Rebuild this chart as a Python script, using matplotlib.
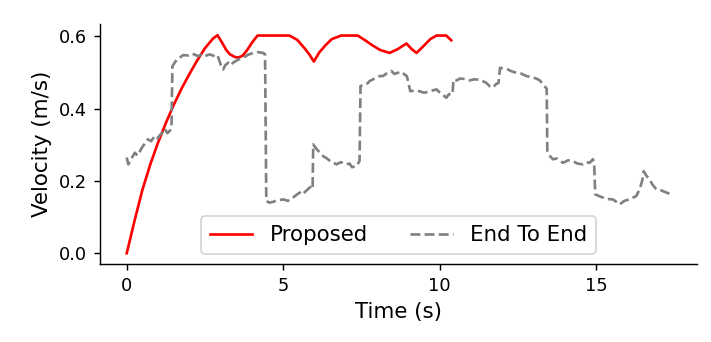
import matplotlib
matplotlib.use("Agg")
import matplotlib.pyplot as plt

# proposed controller velocity (red)
proposed_t = [0.0, 0.25, 0.5, 0.75, 1.0, 1.25, 1.5, 1.75, 2.0, 2.25, 2.5, 2.75, 2.9,
              3.05, 3.18, 3.3, 3.45, 3.56, 3.7, 3.85, 4.0, 4.18, 5.2, 5.45, 5.7, 5.85,
              5.98, 6.15, 6.35, 6.55, 6.85, 7.38, 7.6, 7.85, 8.1, 8.4, 8.65, 8.94, 9.1,
              9.26, 9.45, 9.7, 9.9, 10.21, 10.37]
proposed_v = [0.0, 0.09, 0.175, 0.245, 0.306, 0.36, 0.41, 0.455, 0.495, 0.533, 0.567, 0.593, 0.603,
              0.582, 0.562, 0.55, 0.543, 0.541, 0.546, 0.562, 0.582, 0.602, 0.602, 0.59, 0.565, 0.548,
              0.53, 0.555, 0.575, 0.592, 0.602, 0.602, 0.59, 0.575, 0.562, 0.554, 0.564, 0.58, 0.565,
              0.554, 0.57, 0.592, 0.602, 0.602, 0.589]

# end to end baseline velocity (gray dashed)
e2e_t = [0.0, 0.05, 0.15, 0.26, 0.35, 0.47, 0.55, 0.67, 0.78, 0.9, 1.0, 1.05, 1.15, 1.21, 1.3,
         1.37, 1.43, 1.46, 1.53, 1.6, 1.69, 1.8, 1.96, 2.1, 2.28, 2.4, 2.49, 2.65, 2.81, 2.9,
         2.97, 3.02, 3.08, 3.15, 3.24, 3.32, 3.4, 3.55, 3.72, 3.85, 4.04, 4.2, 4.36, 4.42,
         4.46, 4.55, 4.67, 4.8, 5.0, 5.15, 5.31, 5.4, 5.53, 5.6, 5.79, 5.9, 5.94, 5.96, 6.05,
         6.15, 6.27, 6.4, 6.5, 6.7, 6.85, 7.02, 7.12, 7.2, 7.34, 7.44, 7.47, 7.6, 7.7, 7.76,
         7.85, 7.98, 8.08, 8.19, 8.3, 8.46, 8.55, 8.67, 8.78, 8.88, 8.95, 8.99, 9.06, 9.2,
         9.36, 9.5, 9.68, 9.8, 9.9, 10.0, 10.1, 10.21, 10.3, 10.41, 10.44, 10.55, 10.64, 10.8,
         10.96, 11.1, 11.28, 11.38, 11.49, 11.6, 11.7, 11.8, 11.88, 11.93, 12.05, 12.18, 12.3,
         12.45, 12.6, 12.77, 12.9, 13.09, 13.2, 13.35, 13.42, 13.44, 13.53, 13.62, 13.75,
         13.94, 14.1, 14.26, 14.4, 14.58, 14.7, 14.79, 14.9, 14.94, 14.97, 15.1, 15.22, 15.35,
         15.54, 15.65, 15.75, 15.9, 16.07, 16.2, 16.28, 16.39, 16.47, 16.52, 16.6, 16.71, 16.8,
         16.92, 17.05, 17.13, 17.3, 17.37]
e2e_v = [0.265, 0.246, 0.262, 0.278, 0.27, 0.29, 0.3, 0.315, 0.31, 0.325, 0.318, 0.326, 0.335, 0.345, 0.332,
         0.338, 0.345, 0.517, 0.527, 0.535, 0.54, 0.548, 0.547, 0.552, 0.545, 0.55, 0.545, 0.55, 0.545, 0.548,
         0.53, 0.517, 0.508, 0.52, 0.527, 0.52, 0.527, 0.535, 0.54, 0.548, 0.554, 0.556, 0.554, 0.55,
         0.145, 0.14, 0.142, 0.146, 0.149, 0.145, 0.154, 0.16, 0.168, 0.162, 0.177, 0.186, 0.18, 0.301, 0.29,
         0.28, 0.269, 0.262, 0.255, 0.246, 0.252, 0.246, 0.248, 0.238, 0.241, 0.255, 0.462, 0.467, 0.47, 0.476,
         0.48, 0.485, 0.49, 0.49, 0.497, 0.504, 0.496, 0.499, 0.502, 0.494, 0.49, 0.476, 0.448, 0.45,
         0.448, 0.444, 0.447, 0.451, 0.453, 0.445, 0.439, 0.43, 0.44, 0.44, 0.48, 0.478, 0.483, 0.482,
         0.478, 0.481, 0.48, 0.476, 0.471, 0.462, 0.458, 0.468, 0.471, 0.513, 0.51, 0.508, 0.503,
         0.499, 0.497, 0.49, 0.488, 0.483, 0.478, 0.462, 0.455, 0.283, 0.268, 0.26, 0.262,
         0.25, 0.257, 0.255, 0.248, 0.246, 0.252, 0.25, 0.26, 0.24, 0.163, 0.158, 0.154, 0.15,
         0.149, 0.142, 0.135, 0.145, 0.149, 0.155, 0.158, 0.177, 0.2, 0.227, 0.215, 0.204, 0.19,
         0.177, 0.175, 0.172, 0.166, 0.165]

fig, ax = plt.subplots(figsize=(711 / 128, 342 / 128), dpi=128)
fig.subplots_adjust(left=0.14, right=0.981, bottom=0.2275, top=0.929)

ax.plot(proposed_t, proposed_v, color="red", label="Proposed")
ax.plot(e2e_t, e2e_v, color="gray", linestyle="--", label="End To End")

ax.set_xlabel("Time (s)", fontsize=12)
ax.set_ylabel("Velocity (m/s)", fontsize=12)
ax.set_xticks([0, 5, 10, 15])
ax.set_yticks([0.0, 0.2, 0.4, 0.6])
ax.tick_params(labelsize=10)
ax.spines["top"].set_visible(False)
ax.spines["right"].set_visible(False)
ax.legend(loc="lower center", ncol=2, fontsize=12)

fig.savefig("out.png", dpi=128)
